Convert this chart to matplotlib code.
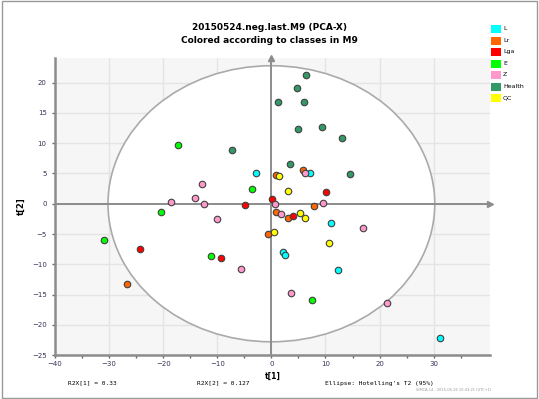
import matplotlib.pyplot as plt
from matplotlib.patches import Ellipse, Rectangle

# score values t[1], t[2] per class
classes = ['L', 'Lr', 'Lga', 'E', 'Z', 'Health', 'QC']
colors = ['#00ffff', '#ff6600', '#ff0000', '#00ff00', '#ff99cc', '#339966', '#ffff00']

t1_L = [-2.8, 7.2, 2.2, 2.5, 11.1, 12.3, 31.2]
t2_L = [5.0, 5.1, -7.9, -8.4, -3.1, -10.9, -22.1]
t1_Lr = [5.8, 0.9, 7.8, 0.9, 3.1, -0.6, -26.6]
t2_Lr = [5.6, 4.7, -0.3, -1.3, -2.4, -5.0, -13.3]
t1_Lga = [-4.9, 0.1, 10.1, 4.0, -24.2, -9.4]
t2_Lga = [-0.2, 0.8, 1.9, -2.0, -7.4, -8.9]
t1_E = [-17.2, -3.5, -20.4, -31.0, -11.1, 7.6]
t2_E = [9.75, 2.4, -1.4, -5.95, -8.6, -15.9]
t1_Z = [-12.9, -14.1, -12.4, -18.6, 0.7, 6.2, 9.5, 1.7, -10.1, -5.6, 3.6, 17.0, 21.3]
t2_Z = [3.3, 1.0, -0.1, 0.3, 0.0, 5.0, 0.05, -1.65, -2.6, -10.7, -14.8, -4.0, -16.4]
t1_Health = [-7.3, 1.2, 4.7, 6.0, 6.4, 4.9, 3.5, 9.4, 13.0, 14.6]
t2_Health = [8.9, 16.8, 19.1, 16.8, 21.2, 12.3, 6.6, 12.7, 10.8, 4.9]
t1_QC = [1.4, 3.1, 5.2, 6.2, 0.4, 10.6]
t2_QC = [4.6, 2.1, -1.5, -2.4, -4.7, -6.4]

t1_all = [t1_L, t1_Lr, t1_Lga, t1_E, t1_Z, t1_Health, t1_QC]
t2_all = [t2_L, t2_Lr, t2_Lga, t2_E, t2_Z, t2_Health, t2_QC]

xticks = [-40, -30, -20, -10, 0, 10, 20, 30]
yticks = [-25, -20, -15, -10, -5, 0, 5, 10, 15, 20]
ell_w, ell_h = 60.4, 45.6

fig = plt.figure(figsize=(5.39, 3.99), dpi=100)
fig.patches.append(Rectangle((0.003, 0.003), 0.994, 0.994, transform=fig.transFigure,
                             fill=False, edgecolor='#999999', lw=1))
ax = fig.add_axes([0.102, 0.110, 0.807, 0.745])
ax.set_facecolor('#f6f6f6')
ax.set_xlim(-40, 40.4)
ax.set_ylim(-25, 24.1)

ax.set_xticks(xticks)
ax.set_xticks(range(-35, 40, 10), minor=True)
ax.set_yticks(yticks)
ax.grid(True, color='#e4e4e4', lw=1, zorder=0)
ax.set_axisbelow(True)

ax.add_patch(Ellipse((0, 0), ell_w, ell_h, facecolor='white', edgecolor='#aaaaaa', lw=1.2, zorder=1))
ax.axhline(0, color='#8c8c8c', lw=1.4, zorder=2)
ax.axvline(0, color='#8c8c8c', lw=1.4, zorder=2)

for sp in ['top', 'right']:
    ax.spines[sp].set_visible(False)
for sp in ['left', 'bottom']:
    ax.spines[sp].set_color('#8c8c8c')
    ax.spines[sp].set_linewidth(1.8)
ax.plot(1.0, 0, '>', color='#8c8c8c', ms=4, transform=ax.get_yaxis_transform(), clip_on=False)
ax.plot(0, 1.0, '^', color='#8c8c8c', ms=4, transform=ax.get_xaxis_transform(), clip_on=False)

ax.tick_params(which='both', colors='#666666', labelcolor='#333355', labelsize=5, length=2.5, width=1)
ax.tick_params(axis='x', pad=2)

for t1, t2, c, name in zip(t1_all, t2_all, colors, classes):
    ax.scatter(t1, t2, s=22, c=c, edgecolors='#404040', linewidths=0.8, zorder=3, label=name)

ax.set_xlabel('t[1]', fontsize=5.5, fontweight='bold', labelpad=3)
ax.set_ylabel('t[2]', fontsize=6, fontweight='bold', labelpad=4)

fig.text(0.5, 0.925, '20150524.neg.last.M9 (PCA-X)', ha='center', fontsize=6.5, fontweight='bold')
fig.text(0.5, 0.893, 'Colored according to classes in M9', ha='center', fontsize=6.5, fontweight='bold')

# class key, drawn as colour squares at the top right
for i, (name, c) in enumerate(zip(classes, colors)):
    y = 1 - (25 + i * 11.5) / 399
    fig.patches.append(Rectangle((491 / 539, y - 8 / 399), 9.5 / 539, 8 / 399,
                                 transform=fig.transFigure, facecolor=c, edgecolor='none'))
    fig.text(503 / 539, y - 4 / 399, name, fontsize=4.5, va='center')

fig.text(68 / 539, 1 - 383 / 399, 'R2X[1] = 0.33', fontsize=4.5, family='DejaVu Sans Mono', va='center')
fig.text(197 / 539, 1 - 383 / 399, 'R2X[2] = 0.127', fontsize=4.5, family='DejaVu Sans Mono', va='center')
fig.text(325 / 539, 1 - 383 / 399, "Ellipse: Hotelling's T2 (95%)", fontsize=4.5,
         family='DejaVu Sans Mono', va='center')
fig.text(416 / 539, 1 - 390 / 399, 'SIMCA 14 - 2015-05-26 10:43:21 (UTC+1)', fontsize=2.6,
         color='#999999', va='center')

fig.savefig('out.png', dpi=100)
